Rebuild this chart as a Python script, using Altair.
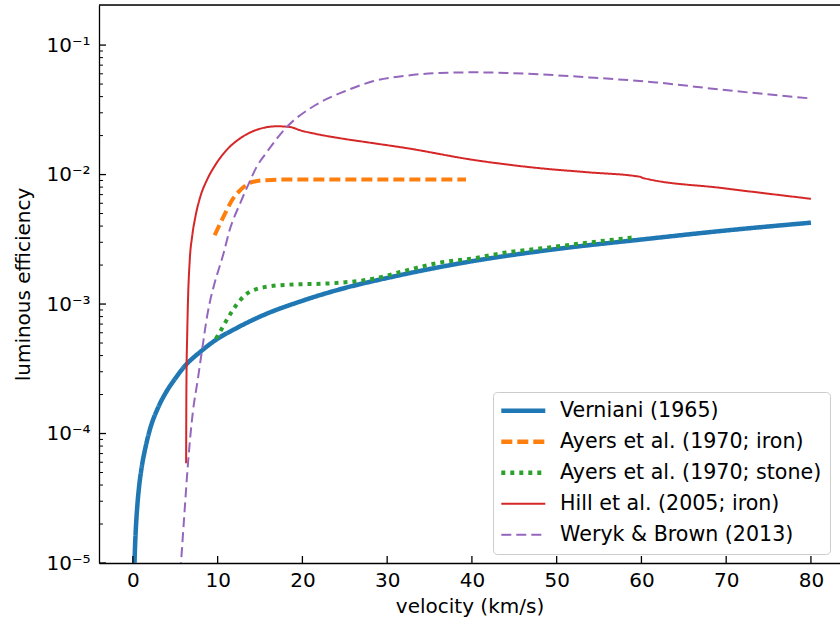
import altair as alt
import pandas as pd

# ---------------- data ----------------
series_names = [
    "Verniani (1965)",
    "Ayers et al. (1970; iron)",
    "Ayers et al. (1970; stone)",
    "Hill et al. (2005; iron)",
    "Weryk & Brown (2013)",
]
series_colors = ["#1f77b4", "#ff7f0e", "#2ca02c", "#d62728", "#9467bd"]
series_dashes = [[1, 0], [11, 5], [4, 5], [1, 0], [10, 5]]
series_widths = [4.5, 4, 4, 2, 2]

verniani_v = [0.19, 0.25, 0.35, 0.5, 0.75, 1, 1.5, 2, 3, 4, 5, 6, 8, 10, 12, 15,
              20, 25, 30, 40, 50, 60, 70, 80]
verniani_tau = [1.0e-5, 1.33e-5, 1.86e-5, 2.65e-5, 4.0e-5, 5.3e-5, 7.9e-5, 1.07e-4,
                1.6e-4, 2.13e-4, 2.66e-4, 3.25e-4, 4.3e-4, 5.4e-4, 6.4e-4, 8.0e-4,
                1.06e-3, 1.33e-3, 1.59e-3, 2.14e-3, 2.66e-3, 3.15e-3, 3.7e-3, 4.25e-3]

ayers_iron_v = [9.65, 10.6, 11.1, 11.6, 12.1, 12.6, 13.0, 13.6, 14.2, 15.7, 18, 25, 39.3]
ayers_iron_tau = [3.4e-3, 4.6e-3, 5.35e-3, 6.2e-3, 6.9e-3, 7.5e-3, 7.95e-3, 8.5e-3,
                  8.8e-3, 9.05e-3, 9.15e-3, 9.15e-3, 9.15e-3]

ayers_stone_v = [9.8, 10.4, 11.0, 11.8, 12.7, 13.5, 14.5, 15.8, 19.3, 21.6, 24.4, 28.4,
                 32.3, 36.2, 40.1, 44.0, 48.0, 53.1, 59.4]
ayers_stone_tau = [5.4e-4, 6.3e-4, 7.4e-4, 9.0e-4, 1.08e-3, 1.21e-3, 1.3e-3, 1.36e-3,
                   1.42e-3, 1.43e-3, 1.46e-3, 1.57e-3, 1.82e-3, 2.09e-3, 2.25e-3,
                   2.50e-3, 2.68e-3, 2.95e-3, 3.29e-3]

hill_v = [6.28, 6.3, 6.33, 6.4, 6.47, 6.71, 6.99, 7.38, 7.96, 8.75, 9.74, 11.11, 12.68,
          14.64, 16.99, 18.55, 19.73, 21.6, 24.4, 28.3, 32.3, 40.1, 48.0, 53.8, 59.9,
          60.1, 69.5, 80]
hill_tau = [5.9e-5, 1.5e-4, 3.0e-4, 5.5e-4, 9.0e-4, 2.2e-3, 3.33e-3, 4.75e-3, 6.77e-3,
            9.12e-3, 1.19e-2, 1.56e-2, 1.91e-2, 2.22e-2, 2.36e-2, 2.33e-2, 2.2e-2,
            2.06e-2, 1.91e-2, 1.75e-2, 1.60e-2, 1.30e-2, 1.12e-2, 1.04e-2, 9.6e-3,
            9.45e-3, 7.87e-3, 6.5e-3]

weryk_v = [5.6, 6.08, 6.47, 7.06, 7.65, 8.16, 8.82, 9.14, 9.6, 10.7, 11.4, 12.67, 13.7,
           14.64, 15.7, 18.05, 21.6, 25.0, 28.3, 32.3, 36.2, 40.1, 44.1, 48.0, 53.8,
           61.7, 69.5, 80]
weryk_tau = [8.5e-6, 2.42e-5, 5.55e-5, 1.44e-4, 2.6e-4, 4.42e-4, 8.5e-4, 1.08e-3, 1.42e-3,
             2.47e-3, 3.7e-3, 6.03e-3, 8.6e-3, 1.16e-2, 1.46e-2, 2.29e-2, 3.46e-2,
             4.4e-2, 5.25e-2, 5.81e-2, 6.09e-2, 6.16e-2, 6.09e-2, 5.94e-2, 5.63e-2,
             5.15e-2, 4.52e-2, 3.87e-2]

x_tick_values = [0, 10, 20, 30, 40, 50, 60, 70, 80]
y_major_values = [1e-5, 1e-4, 1e-3, 1e-2, 1e-1]
y_minor_mult = [2, 3, 4, 5, 6, 7, 8, 9]
y_minor_values = [m * d for d in [1e-5, 1e-4, 1e-3, 1e-2] for m in y_minor_mult]

# ---------------- layout ----------------
W, H = 741, 558
X_DOMAIN = [-4, 83.43]
Y_DOMAIN = [1e-5, 0.204]
FONT = "DejaVu Sans"

all_series = [
    (verniani_v, verniani_tau),
    (ayers_iron_v, ayers_iron_tau),
    (ayers_stone_v, ayers_stone_tau),
    (hill_v, hill_tau),
    (weryk_v, weryk_tau),
]
rows = []
for i, (vs, ts) in enumerate(all_series):
    for v, t in zip(vs, ts):
        rows.append({"series": series_names[i], "v": v, "tau": t,
                     "w": series_widths[i]})
df = pd.DataFrame(rows)

xscale = alt.Scale(domain=X_DOMAIN, nice=False, zero=False)
yscale = alt.Scale(type="log", domain=Y_DOMAIN, nice=False)

x_axis = alt.Axis(values=x_tick_values, format="d", grid=False, ticks=False, tickSize=0,
                  domain=True, domainColor="black", domainWidth=1.3,
                  labelFont=FONT, labelFontSize=20, labelColor="black", labelPadding=7,
                  titleFont=FONT, titleFontSize=20, titleFontWeight="normal",
                  titleColor="black", titlePadding=6)
y_axis = alt.Axis(values=y_major_values, grid=False, ticks=False, tickSize=0,
                  domain=True, domainColor="black", domainWidth=1.3,
                  labelExpr="'10' + ['\u207b\u2075','\u207b\u2074','\u207b\u00b3','\u207b\u00b2','\u207b\u00b9'][round(log(datum.value)/LN10)+5]",
                  labelFont=FONT, labelFontSize=20, labelColor="black", labelPadding=9,
                  titleFont=FONT, titleFontSize=20, titleFontWeight="normal",
                  titleColor="black", titlePadding=12)

legend = alt.Legend(
    orient="none", legendX=394, legendY=387,
    symbolType="M-1.3125,0H4.1875", symbolSize=256, symbolStrokeWidth=3,
    labelFont=FONT, labelFontSize=20.6, labelColor="black",
    labelLimit=500, labelOffset=38, rowPadding=10,
    padding=8.5, cornerRadius=4, strokeColor="#cccccc",
    fillColor="rgba(255,255,255,0.8)",
)

lines = alt.Chart(df).mark_line(clip=True, interpolate="monotone").encode(
    x=alt.X("v:Q", scale=xscale, axis=x_axis, title="velocity (km/s)"),
    y=alt.Y("tau:Q", scale=yscale, axis=y_axis, title="luminous efficiency"),
    color=alt.Color("series:N", scale=alt.Scale(domain=series_names, range=series_colors),
                    title=None, legend=legend),
    strokeDash=alt.StrokeDash("series:N", scale=alt.Scale(domain=series_names, range=series_dashes),
                              title=None),
    strokeWidth=alt.StrokeWidth("w:Q", scale=None, legend=None),
    order=alt.Order("v:Q"),
)

ymaj_df = pd.DataFrame({"t": y_major_values})
ymin_df = pd.DataFrame({"t": y_minor_values})
xt_df = pd.DataFrame({"v": x_tick_values})

y_major_ticks = alt.Chart(ymaj_df).mark_rule(color="black", strokeWidth=1.3).encode(
    y=alt.Y("t:Q", scale=yscale), x=alt.value(0), x2=alt.value(7))
y_minor_ticks = alt.Chart(ymin_df).mark_rule(color="black", strokeWidth=1).encode(
    y=alt.Y("t:Q", scale=yscale), x=alt.value(0), x2=alt.value(4))
x_ticks = alt.Chart(xt_df).mark_rule(color="black", strokeWidth=1.3).encode(
    x=alt.X("v:Q", scale=xscale), y=alt.value(H), y2=alt.value(H - 7))
top_line = alt.Chart(pd.DataFrame({"a": [0]})).mark_rule(color="black", strokeWidth=1.3).encode(
    x=alt.value(0), x2=alt.value(W), y=alt.value(0))

chart = alt.layer(lines, y_major_ticks, y_minor_ticks, x_ticks, top_line).properties(
    width=W, height=H,
    padding={"left": 99, "top": 5, "right": 0, "bottom": 58},
    autosize=alt.AutoSizeParams(type="none"),
).configure_view(stroke=None).configure(font=FONT, background="white")

thin_expr = ("indexof(['Hill et al. (2005; iron)','Weryk & Brown (2013)'], datum.value) >= 0"
             " ? 2 : 4.5")
patch_ops = [
    {"op": "add", "path": "/legends/0/encode",
     "value": {"symbols": {"update": {
         "strokeWidth": {"signal": thin_expr},
         "fill": {"value": "transparent"}}}}},
]

chart.save("out.html", embed_options={"renderer": "svg", "actions": False,
                                      "patch": patch_ops})
